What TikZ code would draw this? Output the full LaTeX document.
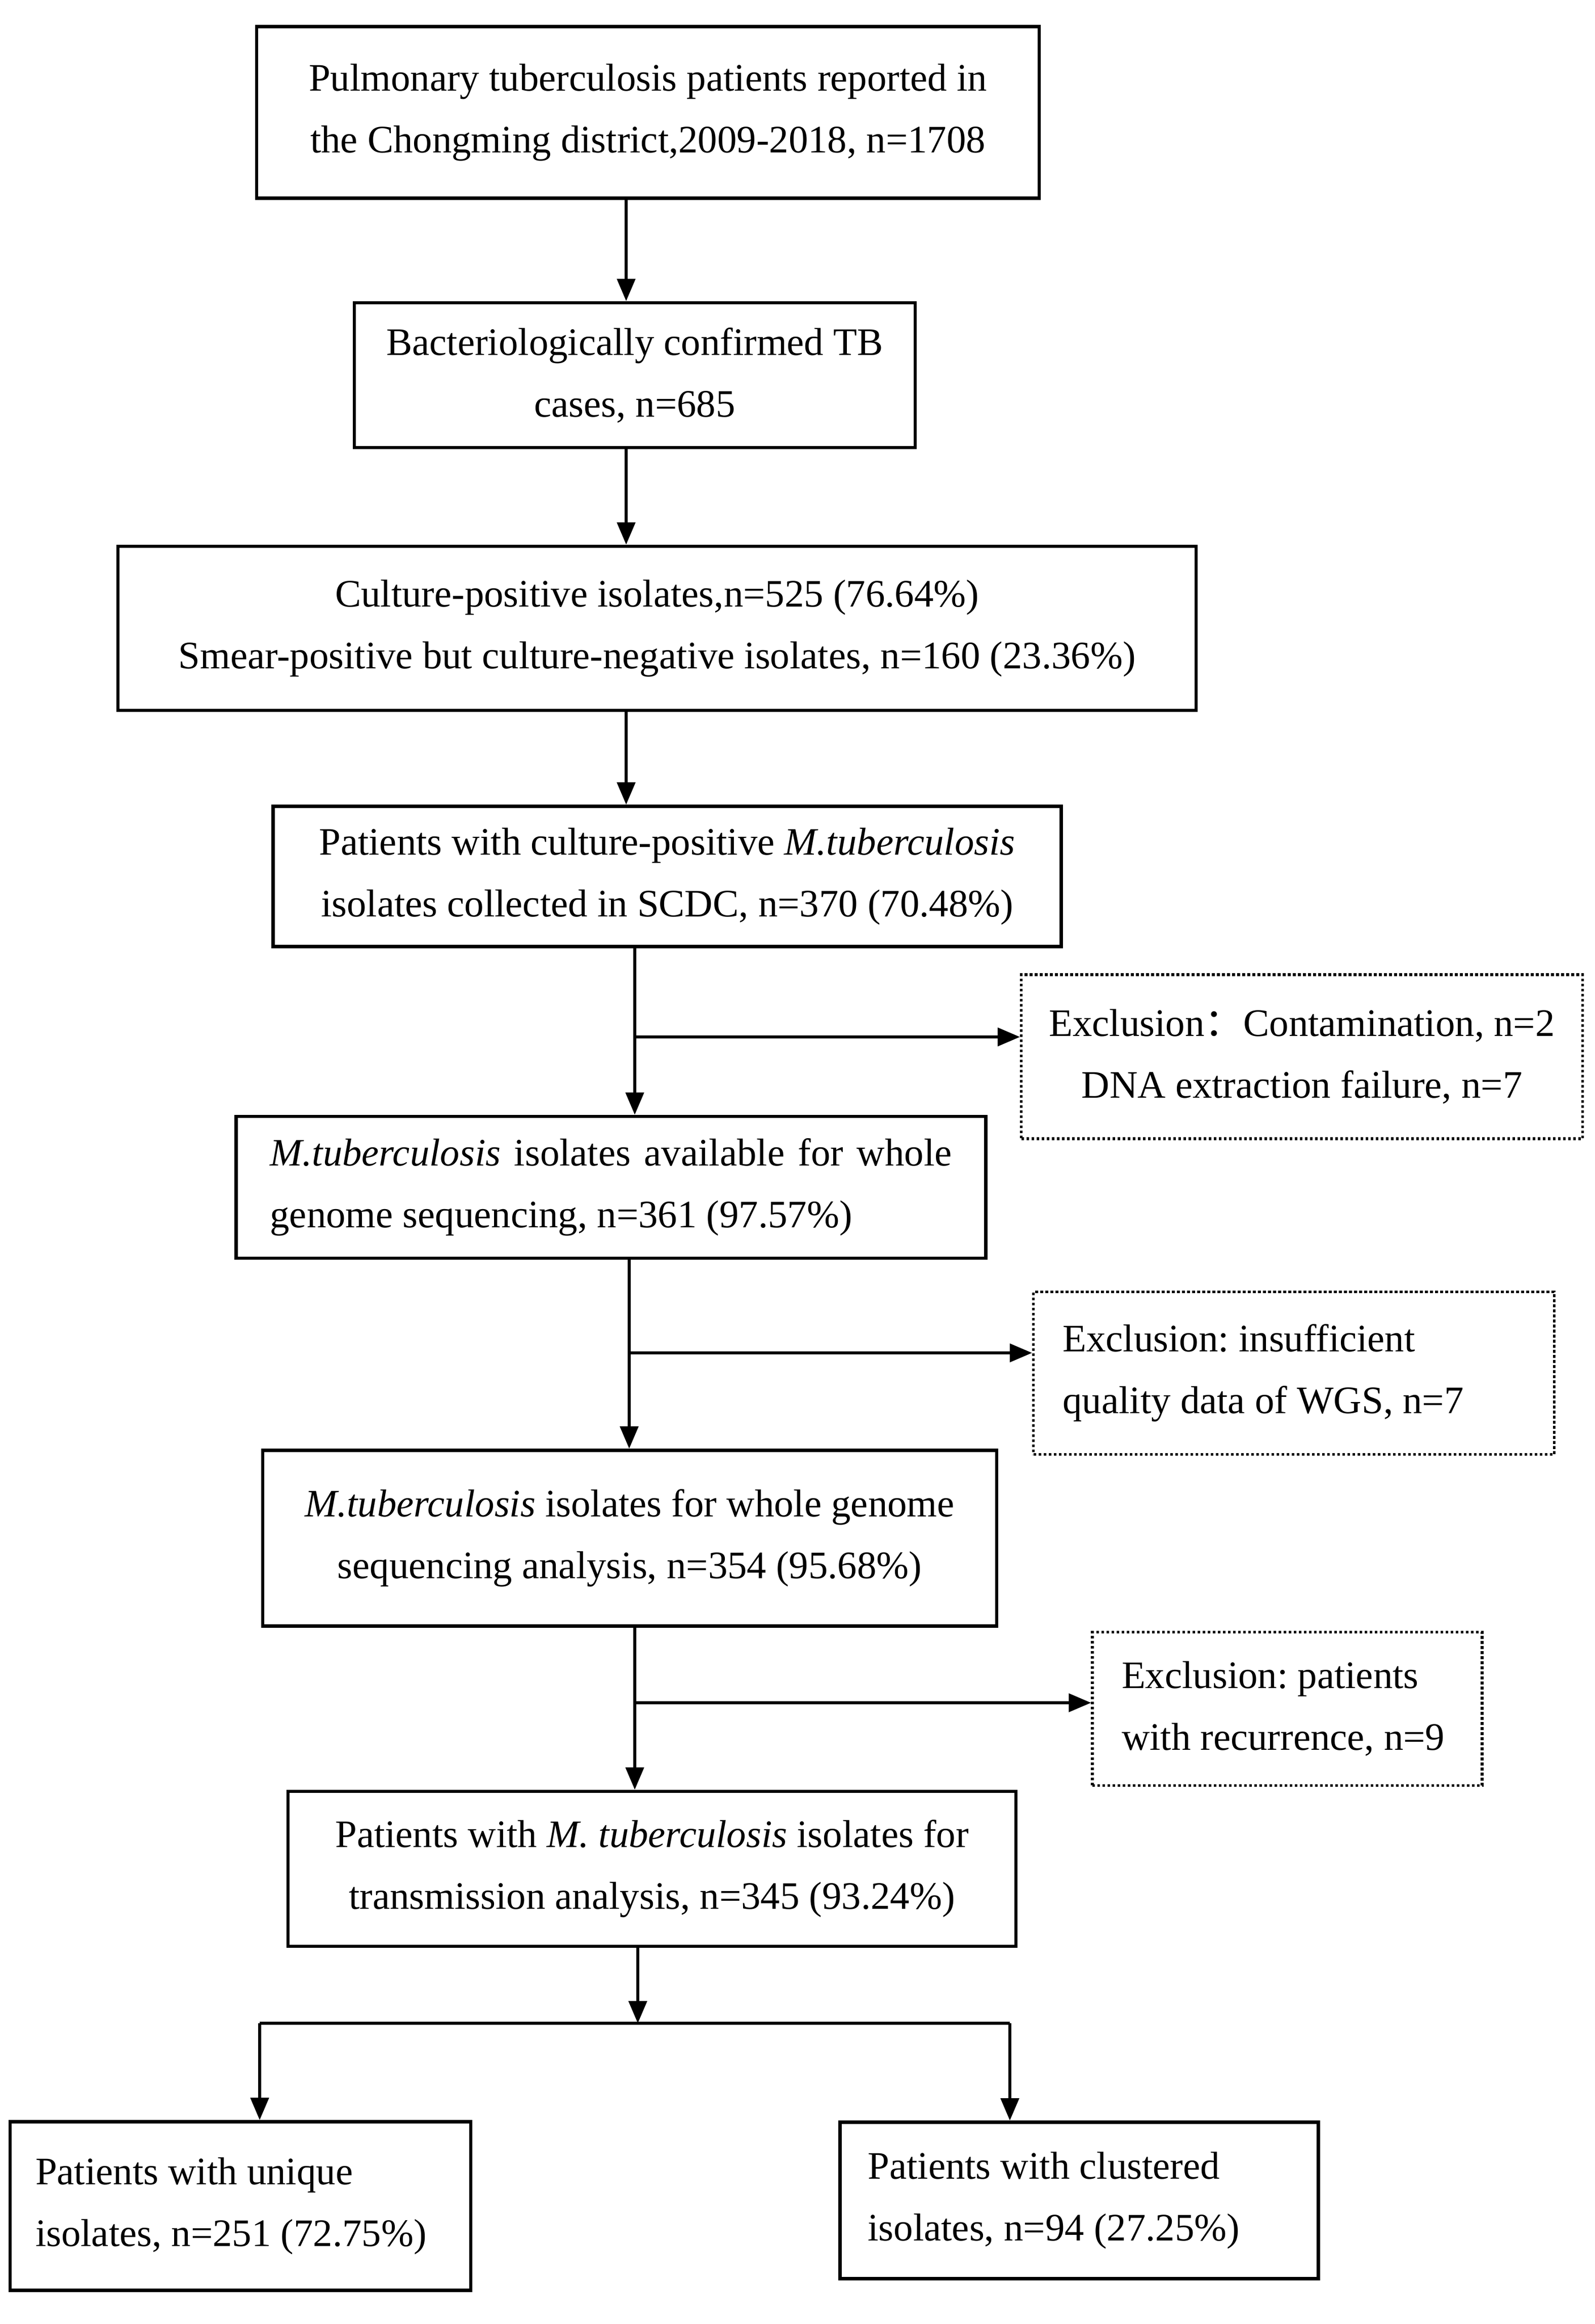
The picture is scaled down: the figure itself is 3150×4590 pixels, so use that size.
\documentclass[tikz,border=0pt]{standalone}
\usepackage{fontspec}
\setmainfont{Liberation Serif}
\newfontfamily\cjk{Noto Sans CJK SC}
\usetikzlibrary{arrows.meta}
\frenchspacing
\begin{document}
\begin{tikzpicture}[x=0.25pt,y=-0.25pt,
  every node/.style={font=\fontsize{19.2pt}{30.5pt}\selectfont\frenchspacing, inner sep=0pt},
  sz/.style 2 args={minimum width=#1, minimum height=#2},
  box/.style={draw, line width=1.7pt, align=flush center},
  exbox/.style={draw, line width=1.3pt, dash pattern=on 1.3pt off 1.2pt},
  lft/.style 2 args={align=flush left, text width=#1, inner xsep=#2},
  arr/.style={line width=1.3pt, -{Triangle[length=11pt,width=9pt]}},
  ln/.style={line width=1.3pt}]
\fill[white] (0,0) rectangle (3150,4590);
\useasboundingbox (0,0) rectangle (3150,4590);

\node[box, sz={386.5pt}{84.75pt}] (b1) at (1280,222)
  {Pulmonary tuberculosis patients reported in\\the Chongming district,2009-2018, n=1708};
\node[box, sz={277pt}{71.5pt}] (b2) at (1254,741)
  {Bacteriologically confirmed TB\\cases, n=685};
\node[box, sz={532.5pt}{81pt}] (b3) at (1298,1241)
  {Culture-positive isolates,n=525 (76.64\%)\\Smear-positive but culture-negative isolates, n=160 (23.36\%)};
\node[box, sz={389.25pt}{69.25pt}] (b4) at (1318,1731)
  {Patients with culture-positive \textit{M.tuberculosis}\\isolates collected in SCDC, n=370 (70.48\%)};
\node[exbox, align=flush center, sz={277.25pt}{81pt}] (e1) at (2572,2087)
  {Exclusion{\cjk ：}Contamination, n=2\\DNA extraction failure, n=7};
\node[box, lft={336.75pt}{16.75pt}, sz={370.25pt}{70pt}] (b5) at (1207,2345)
  {\makebox[\linewidth][s]{\textit{M.tuberculosis} isolates available for whole}\\genome sequencing, n=361 (97.57\%)};
\node[exbox, lft={228.25pt}{14.5pt}, sz={257.25pt}{80.25pt}] (e2) at (2556,2712)
  {Exclusion: insufficient\\quality data of WGS, n=7};
\node[box, sz={362.5pt}{86.75pt}] (b6) at (1244,3038)
  {\textit{M.tuberculosis} isolates for whole genome\\sequencing analysis, n=354 (95.68\%)};
\node[exbox, lft={163.5pt}{14.5pt}, sz={192.5pt}{75.75pt}] (e3) at (2543,3375)
  {Exclusion: patients\\with recurrence, n=9};
\node[box, sz={359.5pt}{76.5pt}] (b7) at (1288,3691)
  {Patients with \textit{M. tuberculosis} isolates for\\transmission analysis, n=345 (93.24\%)};
\node[box, lft={202.5pt}{12.5pt}, sz={227.5pt}{83.25pt}] (bl) at (475,4357)
  {Patients with unique\\isolates, n=251 (72.75\%)};
\node[box, lft={208.75pt}{13.75pt}, sz={236.25pt}{77.25pt}] (br) at (2132,4346)
  {Patients with clustered\\isolates, n=94 (27.25\%)};

\coordinate (v1) at (1237,0);
\coordinate (v4) at (1254,0);
\coordinate (v5) at (1243,0);
\coordinate (v6) at (1254,0);
\coordinate (v7) at (1260,0);
\coordinate (j1) at (1254,2048);
\coordinate (j2) at (1243,2672);
\coordinate (j3) at (1254,3363);
\coordinate (sp) at (1260,3996);
\coordinate (sl) at (513,3996);
\coordinate (sr) at (1995,3996);

\draw[arr] (b1.south -| v1) -- (b2.north -| v1);
\draw[arr] (b2.south -| v1) -- (b3.north -| v1);
\draw[arr] (b3.south -| v1) -- (b4.north -| v1);
\draw[arr] (b4.south -| v4) -- (b5.north -| v4);
\draw[arr] (j1) -- (j1 -| e1.west);
\draw[arr] (b5.south -| v5) -- (b6.north -| v5);
\draw[arr] (j2) -- (j2 -| e2.west);
\draw[arr] (b6.south -| v6) -- (b7.north -| v6);
\draw[arr] (j3) -- (j3 -| e3.west);
\draw[arr] (b7.south -| v7) -- (sp);
\draw[ln] (sl) -- (sr);
\draw[arr] (sl) -- (sl |- bl.north);
\draw[arr] (sr) -- (sr |- br.north);
\end{tikzpicture}
\end{document}
